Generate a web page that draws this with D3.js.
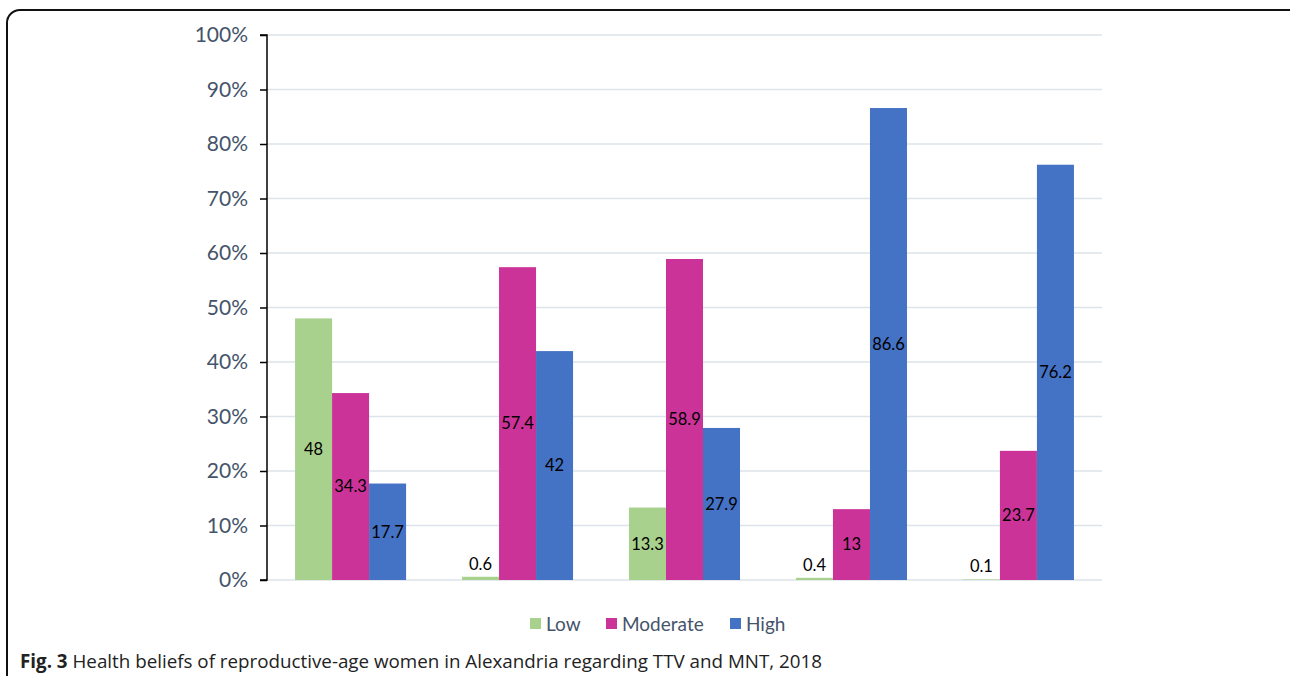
<!DOCTYPE html>
<html><head><meta charset="utf-8">
<script src="https://cdn.jsdelivr.net/npm/d3@7"></script>
<style>body{margin:0;background:#fff;}svg{display:block;}</style>
</head><body>
<svg id="chart" width="1290" height="676"></svg>
<script>
const categories = ["Group 1","Group 2","Group 3","Group 4","Group 5"];
const seriesNames = ["Low","Moderate","High"];
const lowValues = [48, 0.6, 13.3, 0.4, 0.1];
const moderateValues = [34.3, 57.4, 58.9, 13, 23.7];
const highValues = [17.7, 42, 27.9, 86.6, 76.2];
const yTicks = [0,10,20,30,40,50,60,70,80,90,100];
const captionBold = "Fig. 3";
const captionText = " Health beliefs of reproductive-age women in Alexandria regarding TTV and MNT, 2018";

const colors = {Low:"#A9D18E", Moderate:"#CC3399", High:"#4472C4"};
const seriesValues = {Low:lowValues, Moderate:moderateValues, High:highValues};

const svg = d3.select("#chart");
// border
svg.append("rect").attr("x",7).attr("y",10).attr("width",1300).attr("height",700)
  .attr("rx",13).attr("fill","none").attr("stroke","#111").attr("stroke-width",2);

const pLeft=267, pRight=1102, pTop=35, pBottom=580;
const y = d3.scaleLinear().domain([0,100]).range([pBottom,pTop]);
const x0 = d3.scaleBand().domain(categories).range([pLeft,pRight]).paddingInner(0.335).paddingOuter(0.168);
const x1 = d3.scaleBand().domain(seriesNames).range([0,x0.bandwidth()]);

// gridlines
svg.append("g").selectAll("line").data(yTicks).join("line")
  .attr("x1",pLeft).attr("x2",pRight).attr("y1",d=>y(d)).attr("y2",d=>y(d))
  .attr("stroke","#DCE3EA").attr("stroke-width",1.5);

// bars
const groups = svg.append("g").selectAll("g").data(categories).join("g")
  .attr("transform",d=>`translate(${x0(d)},0)`);
groups.selectAll("rect").data((c,i)=>seriesNames.map(s=>({s,v:seriesValues[s][i]}))).join("rect")
  .attr("x",d=>x1(d.s)).attr("width",x1.bandwidth())
  .attr("y",d=>y(d.v)).attr("height",d=>pBottom-y(d.v))
  .attr("fill",d=>colors[d.s]);
groups.selectAll("text").data((c,i)=>seriesNames.map(s=>({s,v:seriesValues[s][i]}))).join("text")
  .attr("x",d=>x1(d.s)+x1.bandwidth()/2)
  .attr("y",d=>{const h=pBottom-y(d.v); return h<20 ? y(d.v)-13 : (y(d.v)+pBottom)/2;})
  .attr("dy","0.35em").attr("text-anchor","middle")
  .attr("font-family","Lato, 'Open Sans', sans-serif").attr("font-size",16.5).attr("fill","#000")
  .text(d=>d.v);

// y axis
const yAxis = d3.axisLeft(y).tickValues(yTicks).tickFormat(d=>d+"%").tickSize(7).tickPadding(12);
const ga = svg.append("g").attr("transform",`translate(${pLeft},0)`).call(yAxis);
ga.select(".domain").attr("stroke","#000").attr("stroke-width",1.5).attr("d",`M-7,${pTop}H0V${pBottom}H-7`);
ga.selectAll(".tick line").attr("stroke","#000").attr("stroke-width",1.5);
ga.selectAll(".tick text").attr("font-family","Lato, 'Open Sans', sans-serif").attr("font-size",21).attr("fill","#44546A");

// legend
const legendItems = [{n:"Low",x:530},{n:"Moderate",x:606},{n:"High",x:730}];
const lg = svg.append("g");
legendItems.forEach(it=>{
  lg.append("rect").attr("x",it.x).attr("y",618).attr("width",11).attr("height",11).attr("fill",colors[it.n]);
  lg.append("text").attr("x",it.x+16).attr("y",624).attr("dy","0.35em")
    .attr("font-family","Lato, 'Open Sans', sans-serif").attr("font-size",19).attr("fill","#44546A").text(it.n);
});

// caption
const cap = svg.append("text").attr("x",20).attr("y",668)
  .attr("font-family","'Liberation Sans Narrow', 'Open Sans', sans-serif").attr("font-size",18.8).attr("fill","#222")
  .attr("textLength",802).attr("lengthAdjust","spacing");
cap.append("tspan").attr("font-weight","bold").text(captionBold);
cap.append("tspan").text(captionText);
</script>
</body></html>
